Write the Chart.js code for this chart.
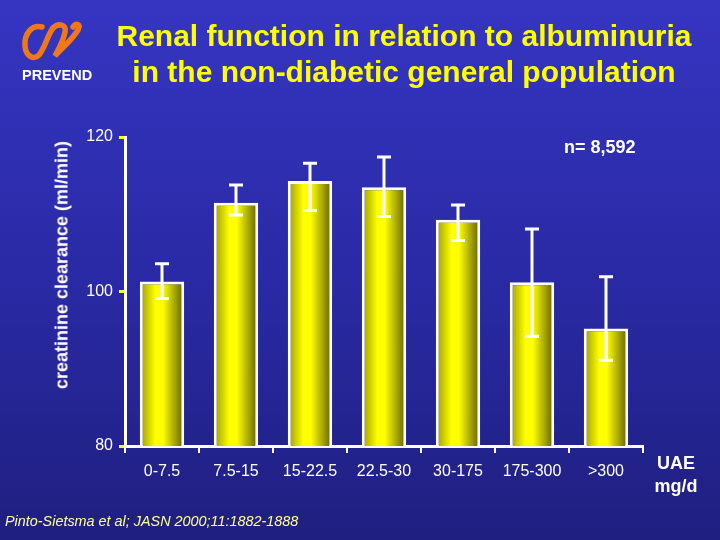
<!DOCTYPE html>
<html>
<head>
<meta charset="utf-8">
<script src="https://cdn.jsdelivr.net/npm/chart.js@4"></script>
<style>
  html, body { margin: 0; padding: 0; }
  body {
    width: 720px; height: 540px; overflow: hidden; position: relative;
    background: linear-gradient(to bottom, #3535c2 0%, #2a2aa6 50%, #1f1f80 100%);
    font-family: "Liberation Sans", Arial, sans-serif;
  }
  #wrap { position: absolute; left: 0; top: 0; width: 720px; height: 540px; }
  .txt { position: absolute; color: #fff; font-weight: bold; white-space: nowrap; }
  #title { left: 100px; width: 608px; top: 18px; text-align: center; color: #ffff00; font-size: 30px; line-height: 36px; }
  #prevend { left: 22px; top: 67px; font-size: 14.5px; }
  #ylab { left: 62px; top: 265px; font-size: 18px; transform: translate(-50%, -50%) rotate(-90deg); }
  #n { left: 564px; top: 137px; font-size: 18px; }
  #uae { left: 651px; top: 452px; font-size: 18px; text-align: center; line-height: 23px; width: 50px; }
  #cite { left: 5px; top: 513px; font-size: 14.4px; font-weight: normal; font-style: italic; color: #ffff99; }
  #logo { position: absolute; left: 20px; top: 18px; }
</style>
</head>
<body>
<div id="wrap"><canvas id="bar-chart" width="720" height="540"></canvas></div>
<svg id="logo" width="68" height="46" viewBox="0 0 68 46">
  <path d="M22 9 C12 6 4 16 5 28 C6 39 14 42 19 37 C25 30 27 18 33 10"
        fill="none" stroke="#f07818" stroke-width="5.5" stroke-linecap="round"/>
  <path d="M33 10 C38 5 47 6 45 14 C43 24 38 32 35 38 C40 32 52 22 58 12 C61 6 56 4 53 9"
        fill="none" stroke="#f07818" stroke-width="5.5" stroke-linecap="round"/>
</svg>
<div class="txt" id="prevend">PREVEND</div>
<div class="txt" id="title">Renal function in relation to albuminuria<br>in the non-diabetic general population</div>
<div class="txt" id="ylab">creatinine clearance (ml/min)</div>
<div class="txt" id="n">n= 8,592</div>
<div class="txt" id="uae">UAE<br>mg/d</div>
<div class="txt" id="cite">Pinto-Sietsma et al; JASN 2000;11:1882-1888</div>
<script>
const labels = ["0-7.5", "7.5-15", "15-22.5", "22.5-30", "30-175", "175-300", ">300"];
const clearance = [101.3, 111.5, 114.3, 113.5, 109.3, 101.2, 95.2];
const errHigh = [103.6, 113.8, 116.6, 117.4, 111.2, 108.1, 101.9];
const errLow = [99.1, 109.9, 110.5, 109.7, 106.6, 94.2, 91.1];
const yTicks = [80, 100, 120];

const BAR_PCT = 0.6;

function barFill(ctx) {
  const chart = ctx.chart;
  const x = chart.scales.x;
  if (!x || ctx.dataIndex === undefined) return "#ffff00";
  const cx = x.getPixelForValue(ctx.dataIndex);
  const w = (x.width / labels.length) * BAR_PCT;
  if (!isFinite(cx) || !isFinite(w) || w <= 0) return "#ffff00";
  const g = chart.ctx.createLinearGradient(cx - w / 2, 0, cx + w / 2, 0);
  g.addColorStop(0, "#9a9a00");
  g.addColorStop(0.35, "#ffff00");
  g.addColorStop(0.52, "#ffff00");
  g.addColorStop(1, "#5e5e00");
  return g;
}

const errorBars = {
  id: "errorBars",
  afterDatasetsDraw(chart) {
    const c = chart.ctx;
    const y = chart.scales.y;
    const meta = chart.getDatasetMeta(0);
    c.save();
    c.strokeStyle = "#ffffff";
    c.lineWidth = 3;
    meta.data.forEach((bar, i) => {
      const top = y.getPixelForValue(errHigh[i]);
      const bot = y.getPixelForValue(errLow[i]);
      c.beginPath();
      c.moveTo(bar.x, top); c.lineTo(bar.x, bot);
      c.moveTo(bar.x - 7, top); c.lineTo(bar.x + 7, top);
      c.moveTo(bar.x - 7, bot); c.lineTo(bar.x + 7, bot);
      c.stroke();
    });
    c.restore();
  }
};

const config = {
  type: "bar",
  data: {
    labels: labels,
    datasets: [{
      data: clearance,
      backgroundColor: barFill,
      borderColor: "#ffffff",
      borderWidth: 3,
      barPercentage: BAR_PCT,
      categoryPercentage: 1
    }]
  },
  options: {
    responsive: false,
    animation: false,
    layout: { padding: { left: 0, top: 137, right: 77, bottom: 0 } },
    plugins: { legend: { display: false }, tooltip: { enabled: false } },
    scales: {
      x: {
        afterFit: (s) => { s.height = 94; },
        grid: { drawOnChartArea: false, drawTicks: true, tickLength: 7, color: "#ffffff", lineWidth: 2 },
        border: { display: true, color: "#ffffff", width: 3 },
        ticks: { color: "#ffffff", padding: 9, font: { family: "Liberation Sans", size: 16 } }
      },
      y: {
        min: 80, max: 120,
        afterFit: (s) => { s.width = 125; },
        afterBuildTicks: (s) => { s.ticks = yTicks.map(v => ({ value: v })); },
        grid: { drawOnChartArea: false, drawTicks: true, tickLength: 6, color: "#ffff00", lineWidth: 3 },
        border: { display: true, color: "#ffffff", width: 3 },
        ticks: { color: "#ffffff", padding: 6, font: { family: "Liberation Sans", size: 16 } }
      }
    }
  },
  plugins: [errorBars]
};

new Chart(document.getElementById("bar-chart").getContext("2d"), config);
</script>
</body>
</html>
